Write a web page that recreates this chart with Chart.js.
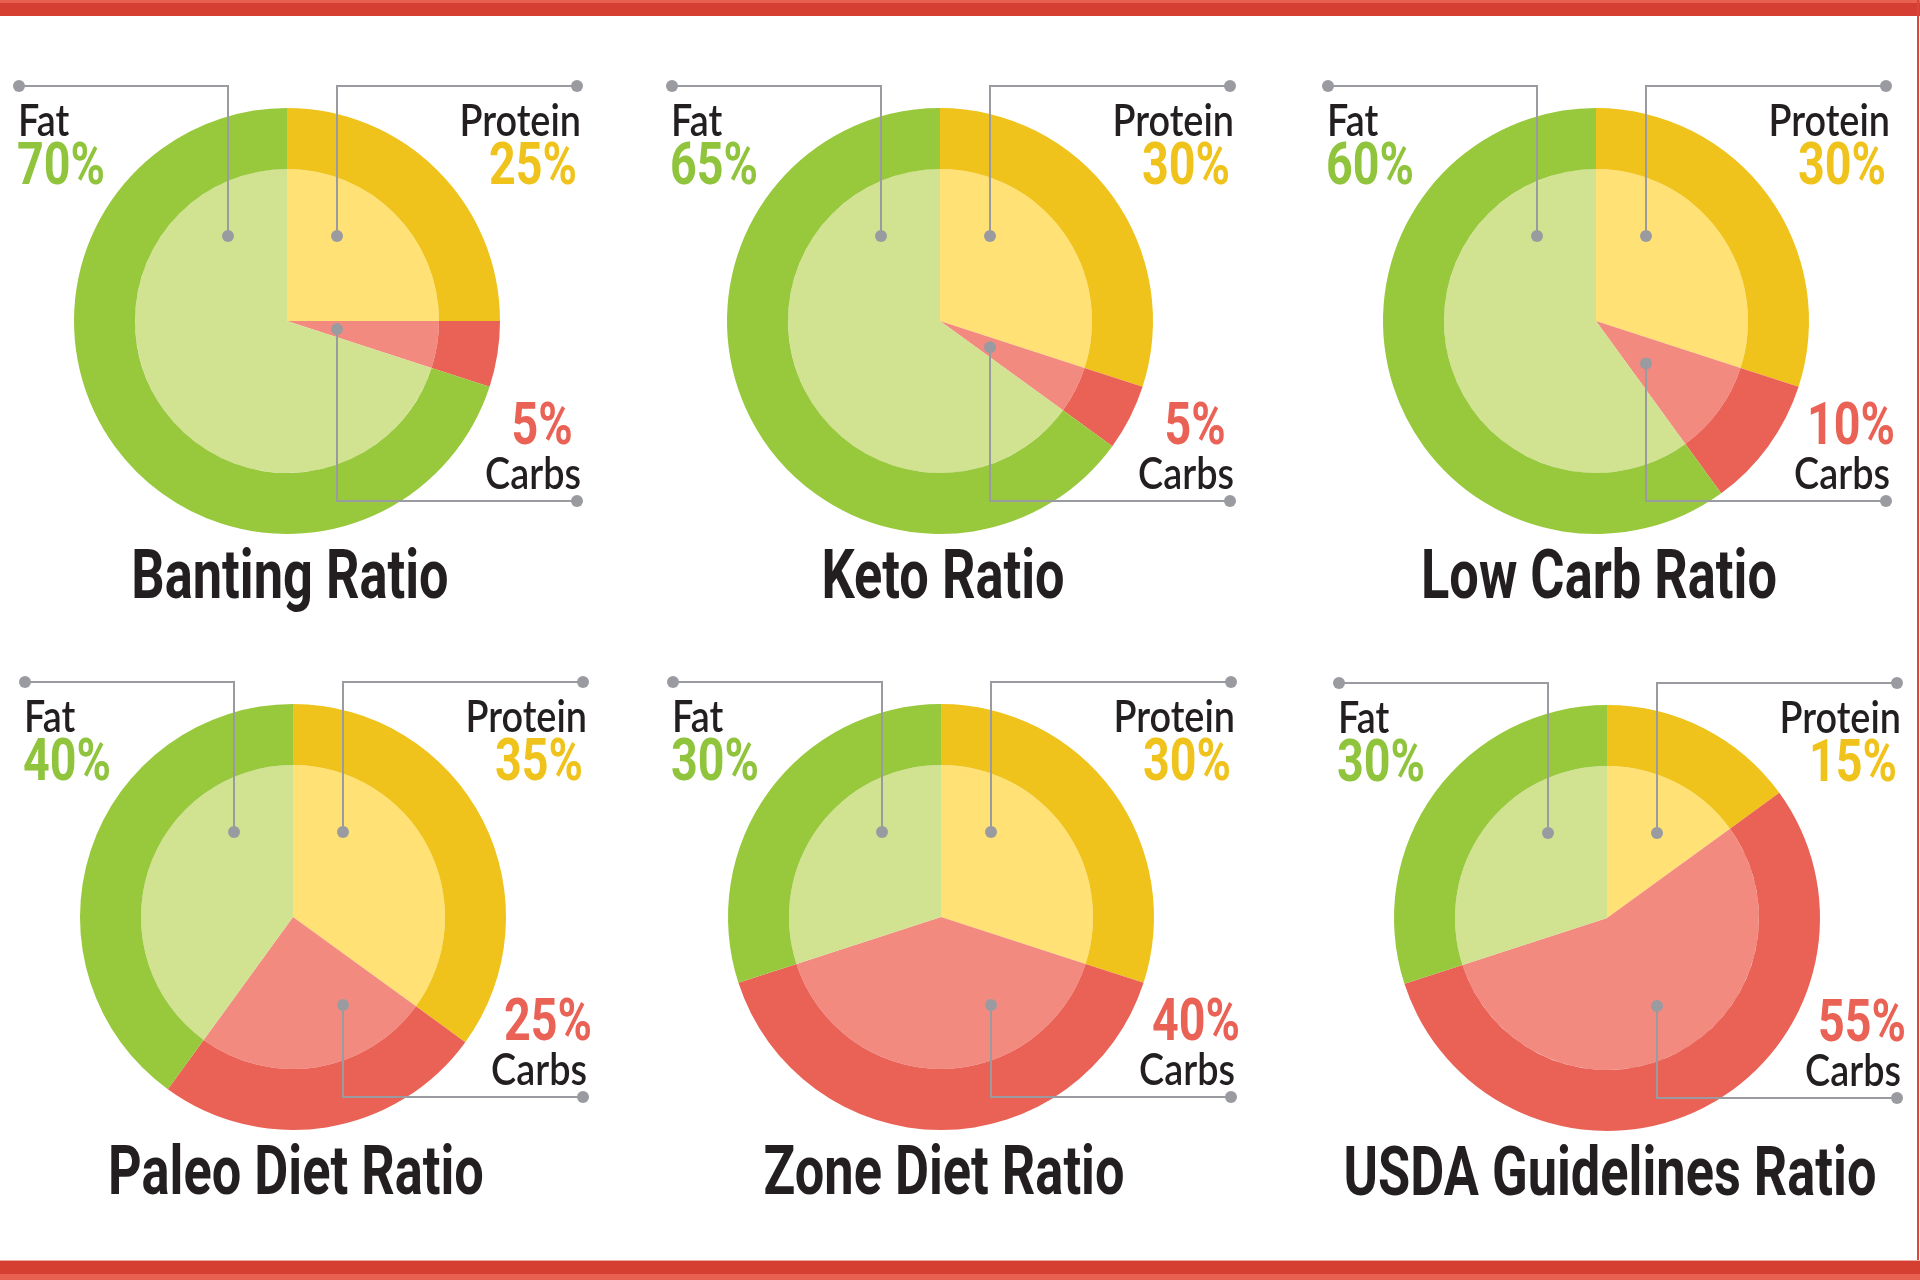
<!DOCTYPE html>
<html lang="en">
<head>
    <meta charset="UTF-8">
    <title>Diet Ratios</title>
    <script src="https://cdn.jsdelivr.net/npm/chart.js"></script>
    <style>
        html, body {
            margin: 0;
            padding: 0;
        }
        body {
            width: 1920px;
            height: 1280px;
            position: relative;
            overflow: hidden;
            background: #ffffff;
        }
        /* faixas vermelhas */
        .bar-top {
            position: absolute; left: 0; top: 0; width: 1920px; height: 16px;
            background: linear-gradient(#e8604f 0, #e8604f 3px, #d43f31 3px);
        }
        .bar-bottom {
            position: absolute; left: 0; top: 1260px; width: 1920px; height: 20px;
            background: linear-gradient(#efa69d 0, #efa69d 1px, #d43f31 1px, #d43f31 14px, #e8604f 14px);
        }
        .bar-right {
            position: absolute; left: 1917px; top: 0; width: 2px; height: 1280px;
            background: #d9463a;
        }
        canvas {
            position: absolute;
        }
    </style>
</head>
<body>
    <div class="bar-top"></div>
    <div class="bar-right"></div>
    <div class="bar-bottom"></div>

    <script>
        // dados
        const dietNames = ['Banting Ratio', 'Keto Ratio', 'Low Carb Ratio', 'Paleo Diet Ratio', 'Zone Diet Ratio', 'USDA Guidelines Ratio'];
        const macroLabels = ['Protein', 'Carbs', 'Fat'];
        const proteinPct = [25, 30, 30, 35, 30, 15];
        const carbsPct = [5, 5, 10, 25, 40, 55];
        const fatPct = [70, 65, 60, 40, 30, 30];

        // layout: centro de cada pizza
        const centersX = [287, 940, 1596, 293, 941, 1607];
        const centersY = [321, 321, 321, 917, 917, 918];

        const outerColors = ['#efc31b', '#e96255', '#98c83c'];
        const innerColors = ['#ffe175', '#f38a80', '#d1e290'];
        const textColors = ['#efc31b', '#e96255', '#8fc43c'];
        const grey = '#9a9ba0';
        const dark = '#231f20';

        const SIZE = 640;
        const R = 213;

        function txt(ctx, s, x, y, font, color, align, sx) {
            ctx.save();
            ctx.font = font;
            ctx.fillStyle = color;
            ctx.textAlign = align;
            ctx.textBaseline = 'alphabetic';
            ctx.translate(x, y);
            ctx.scale(sx, 1);
            ctx.fillText(s, 0, 0);
            ctx.restore();
        }

        function dot(ctx, x, y) {
            ctx.beginPath();
            ctx.arc(x, y, 6, 0, Math.PI * 2);
            ctx.fill();
        }

        // linhas de chamada, rótulos e título
        const calloutPlugin = {
            id: 'callouts',
            afterDraw(chart, args, opts) {
                const ctx = chart.ctx;
                const arcs = chart.getDatasetMeta(0).data;
                const cx = arcs[0].x, cy = arcs[0].y;
                const i = opts.index;

                // posição do ponto de carboidratos dentro da fatia
                const carb = arcs[1];
                const yAt = a => (a >= Math.PI / 2 ? Infinity : 50 * Math.tan(a));
                const carbY = Math.min((yAt(carb.startAngle) + yAt(carb.endAngle)) / 2, 88);

                ctx.save();
                ctx.strokeStyle = grey;
                ctx.fillStyle = grey;
                ctx.lineWidth = 2;
                ctx.lineJoin = 'miter';

                ctx.beginPath();
                // gordura
                ctx.moveTo(cx - 268, cy - 235);
                ctx.lineTo(cx - 59, cy - 235);
                ctx.lineTo(cx - 59, cy - 85);
                // proteína
                ctx.moveTo(cx + 290, cy - 235);
                ctx.lineTo(cx + 50, cy - 235);
                ctx.lineTo(cx + 50, cy - 85);
                // carboidratos
                ctx.moveTo(cx + 50, cy + carbY);
                ctx.lineTo(cx + 50, cy + 180);
                ctx.lineTo(cx + 290, cy + 180);
                ctx.stroke();

                dot(ctx, cx - 268, cy - 235);
                dot(ctx, cx - 59, cy - 85);
                dot(ctx, cx + 290, cy - 235);
                dot(ctx, cx + 50, cy - 85);
                dot(ctx, cx + 50, cy + carbY);
                dot(ctx, cx + 290, cy + 180);
                ctx.restore();

                const labelFont = '600 45px Lato';
                const pctFont = '700 59px Roboto';
                const titleFont = '700 68px Roboto';

                txt(ctx, macroLabels[2], cx - 269, cy - 185, labelFont, dark, 'left', 0.84);
                txt(ctx, fatPct[i] + '%', cx - 270, cy - 137, pctFont, textColors[2], 'left', 0.79);

                txt(ctx, macroLabels[0], cx + 294, cy - 185, labelFont, dark, 'right', 0.84);
                txt(ctx, proteinPct[i] + '%', cx + 290, cy - 137, pctFont, textColors[0], 'right', 0.79);

                txt(ctx, carbsPct[i] + '%', cx + 255, cy + 123, pctFont, textColors[1], 'center', 0.79);
                txt(ctx, macroLabels[1], cx + 294, cy + 168, labelFont, dark, 'right', 0.84);

                txt(ctx, dietNames[i], cx + 3, cy + 277, titleFont, dark, 'center', 0.77);
            }
        };

        dietNames.forEach((name, i) => {
            const canvas = document.createElement('canvas');
            canvas.width = SIZE;
            canvas.height = SIZE;
            canvas.style.width = SIZE + 'px';
            canvas.style.height = SIZE + 'px';
            canvas.style.left = (centersX[i] - SIZE / 2) + 'px';
            canvas.style.top = (centersY[i] - SIZE / 2) + 'px';
            document.body.appendChild(canvas);

            const values = [proteinPct[i], carbsPct[i], fatPct[i]];

            new Chart(canvas.getContext('2d'), {
                type: 'pie',
                data: {
                    labels: macroLabels,
                    datasets: [
                        {
                            data: values,
                            backgroundColor: outerColors,
                            borderWidth: 0,
                            hoverOffset: 0,
                            weight: 61
                        },
                        {
                            data: values,
                            backgroundColor: innerColors,
                            borderWidth: 0,
                            hoverOffset: 0,
                            weight: 152
                        }
                    ]
                },
                options: {
                    responsive: false,
                    animation: false,
                    events: [],
                    layout: { padding: (SIZE - 2 * R) / 2 },
                    plugins: {
                        legend: { display: false },
                        tooltip: { enabled: false },
                        callouts: { index: i }
                    }
                },
                plugins: [calloutPlugin]
            });
        });
    </script>
</body>
</html>
